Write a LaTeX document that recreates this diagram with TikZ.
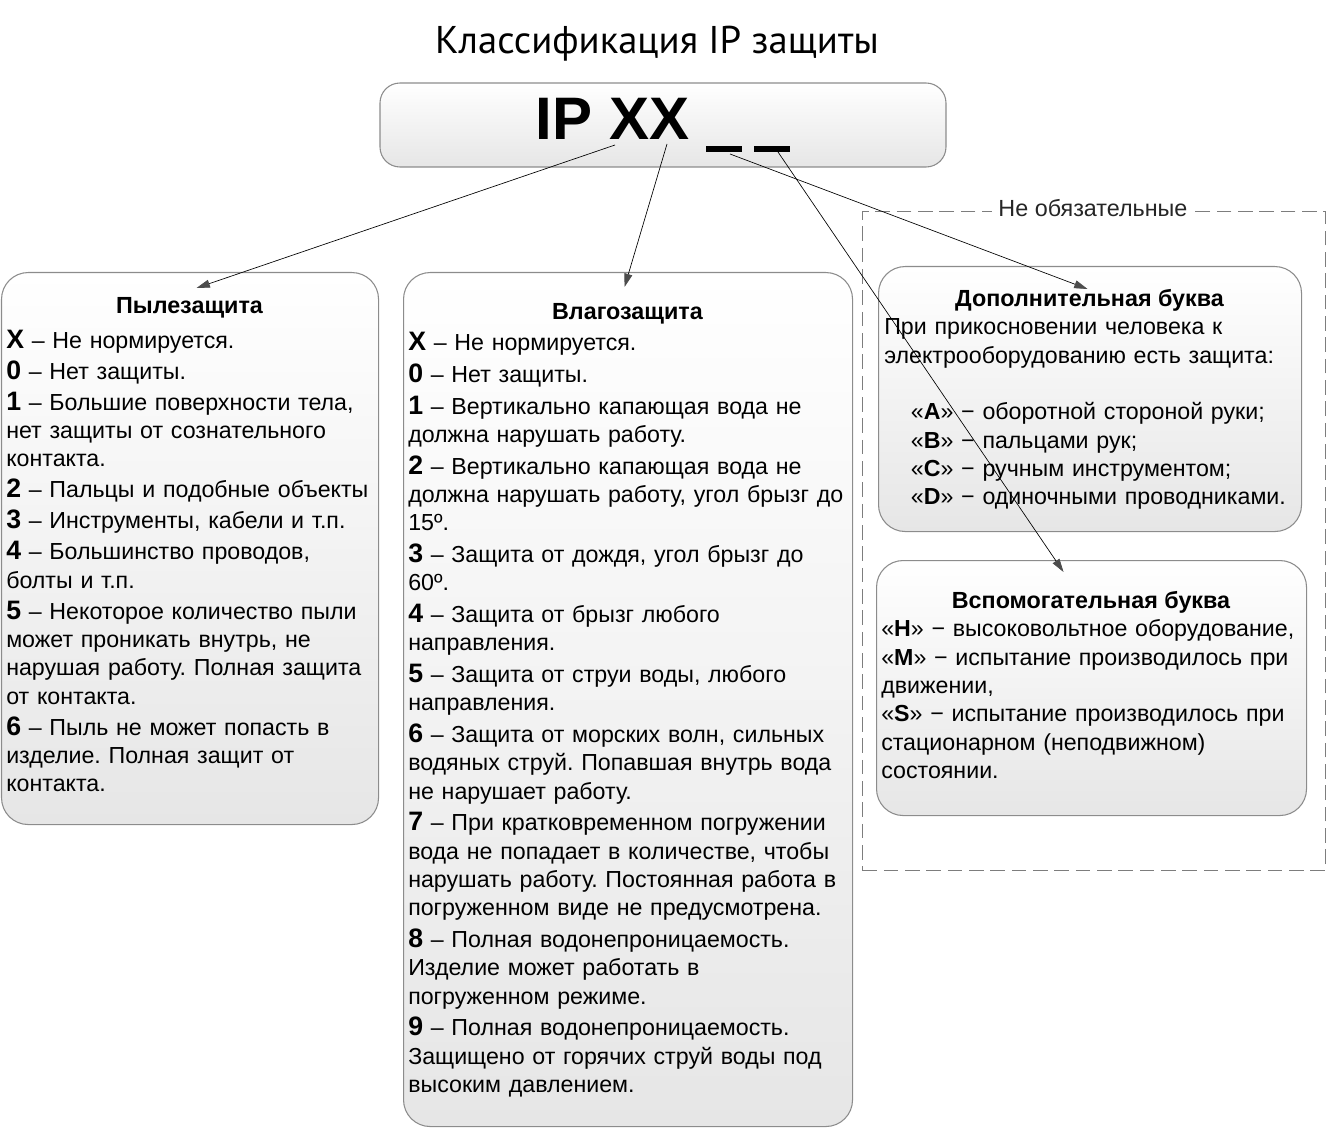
\documentclass[tikz,border=0pt]{standalone}
\usepackage{fontspec}
\setmainfont{Liberation Sans}
\newfontfamily\titlefont{PT Sans}
\usetikzlibrary{arrows.meta}
\frenchspacing

\definecolor{boxgray}{RGB}{140,140,140}
\definecolor{shadegray}{RGB}{230,230,230}
\definecolor{dashgray}{RGB}{125,125,125}

\newcommand{\ipkey}[1]{{\fontsize{20pt}{21.25pt}\selectfont\bfseries #1}}
\newcommand{\ipslot}{\rule[-0.22em]{0.6em}{0.1em}}

\begin{document}
\begin{tikzpicture}[x=0.75pt, y=-0.75pt,
  panel/.style={draw=boxgray, line width=0.8pt, rounded corners=20pt, top color=white, bottom color=shadegray, anchor=north west, inner sep=0pt},
  heading/.style={anchor=base, inner sep=0pt, font=\fontsize{17.5pt}{21pt}\selectfont\bfseries},
  bodytext/.style={anchor=base west, align=left, inner sep=0pt, font=\fontsize{17.4pt}{21.25pt}\selectfont},
  link/.style={black, line width=0.5pt, -{Triangle[length=10pt, width=6pt, color=black!70, fill=black!70]}}
]
  \useasboundingbox (0,0) rectangle (1328,1130);

  % Title
  \node[anchor=base, inner sep=0pt, font=\titlefont\fontsize{29pt}{34pt}\selectfont] (title) at (657,54) {Классификация IP защиты};

  % IP code
  \node[panel, anchor=center, rounded corners=15pt, minimum width=424.5pt, minimum height=63pt, font=\fontsize{45pt}{54pt}\selectfont\bfseries] (ip) at (663,125) {IP XX\hspace{0.28em}\ipslot\hspace{0.2em}\ipslot};

  % Optional letters frame
  \node[draw=dashgray, line width=0.7pt, dash pattern=on 11pt off 5pt, anchor=north west, inner sep=0pt, minimum width=347.25pt, minimum height=494.25pt] (opt) at (862,211) {};
  \node[anchor=base, fill=white, inner xsep=5pt, inner ysep=1pt, font=\fontsize{17.5pt}{20pt}\selectfont, text=black!85] (optlabel) at ([shift={(-1,6)}]opt.north) {Не обязательные};

  % Dust protection
  \node[panel, minimum width=282.75pt, minimum height=414pt] (dust) at (1,272) {};
  \node[heading] (dusthead) at (189.5,314) {Пылезащита};
  \node[bodytext, text width=290pt] (dusttext) at (6,348.3) {
    \ipkey{X} – Не нормируется.\\[2pt]
    \ipkey{0} – Нет защиты.\\[2pt]
    \ipkey{1} – Большие поверхности тела,\\
    нет защиты от сознательного\\
    контакта.\\[2pt]
    \ipkey{2} – Пальцы и подобные объекты\\[2pt]
    \ipkey{3} – Инструменты, кабели и т.п.\\[2pt]
    \ipkey{4} – Большинство проводов,\\
    болты и т.п.\\[2pt]
    \ipkey{5} – Некоторое количество пыли\\
    может проникать внутрь, не\\
    нарушая работу. Полная защита\\
    от контакта.\\[2pt]
    \ipkey{6} – Пыль не может попасть в\\
    изделие. Полная защит от\\
    контакта.};

  % Water protection
  \node[panel, minimum width=336.75pt, minimum height=640.5pt] (water) at (403,272) {};
  \node[heading] (waterhead) at (627.5,320) {Влагозащита};
  \node[bodytext, text width=345pt] (watertext) at (408,350.7) {
    \ipkey{X} – Не нормируется.\\[2.5pt]
    \ipkey{0} – Нет защиты.\\[2.5pt]
    \ipkey{1} – Вертикально капающая вода не\\
    должна нарушать работу.\\[2.5pt]
    \ipkey{2} – Вертикально капающая вода не\\
    должна нарушать работу, угол брызг до\\
    15º.\\[2.5pt]
    \ipkey{3} – Защита от дождя, угол брызг до\\
    60º.\\[2.5pt]
    \ipkey{4} – Защита от брызг любого\\
    направления.\\[2.5pt]
    \ipkey{5} – Защита от струи воды, любого\\
    направления.\\[2.5pt]
    \ipkey{6} – Защита от морских волн, сильных\\
    водяных струй. Попавшая внутрь вода\\
    не нарушает работу.\\[2.5pt]
    \ipkey{7} – При кратковременном погружении\\
    вода не попадает в количестве, чтобы\\
    нарушать работу. Постоянная работа в\\
    погруженном виде не предусмотрена.\\[2.5pt]
    \ipkey{8} – Полная водонепроницаемость.\\
    Изделие может работать в\\
    погруженном режиме.\\[2.5pt]
    \ipkey{9} – Полная водонепроницаемость.\\
    Защищено от горячих струй воды под\\
    высоким давлением.};

  % Additional letter
  \node[panel, minimum width=317.25pt, minimum height=198.75pt] (extra) at (878,266) {};
  \node[heading] (extrahead) at (1089.5,306.7) {Дополнительная буква};
  \node[bodytext, text width=325pt] (extratext) at (884,335) {
    При прикосновении человека к\\
    электрооборудованию есть защита:\\[21.25pt]
    \hspace*{20pt}«\textbf{A}» − оборотной стороной руки;\\
    \hspace*{20pt}«\textbf{B}» − пальцами рук;\\
    \hspace*{20pt}«\textbf{C}» − ручным инструментом;\\
    \hspace*{20pt}«\textbf{D}» − одиночными проводниками.};

  % Auxiliary letter
  \node[panel, minimum width=322.5pt, minimum height=191.25pt] (aux) at (876,560) {};
  \node[heading] (auxhead) at (1091,608.3) {Вспомогательная буква};
  \node[bodytext, text width=330pt] (auxtext) at (881,636.7) {
    «\textbf{H}» − высоковольтное оборудование,\\
    «\textbf{M}» − испытание производилось при\\
    движении,\\
    «\textbf{S}» − испытание производилось при\\
    стационарном (неподвижном)\\
    состоянии.};

  % Connectors
  \coordinate (s1) at (615,145);
  \coordinate (s2) at (667,144);
  \coordinate (s3) at (730,154);
  \coordinate (s4) at (778,152);
  \draw[link] (s1) -- ([shift={(6.5,16)}]dust.north);
  \draw[link] (s2) -- ([shift={(-3.5,15)}]water.north);
  \draw[link] (s3) -- ([shift={(-2.5,23)}]extra.north);
  \draw[link] (s4) -- ([shift={(-28,12)}]aux.north);
\end{tikzpicture}
\end{document}
